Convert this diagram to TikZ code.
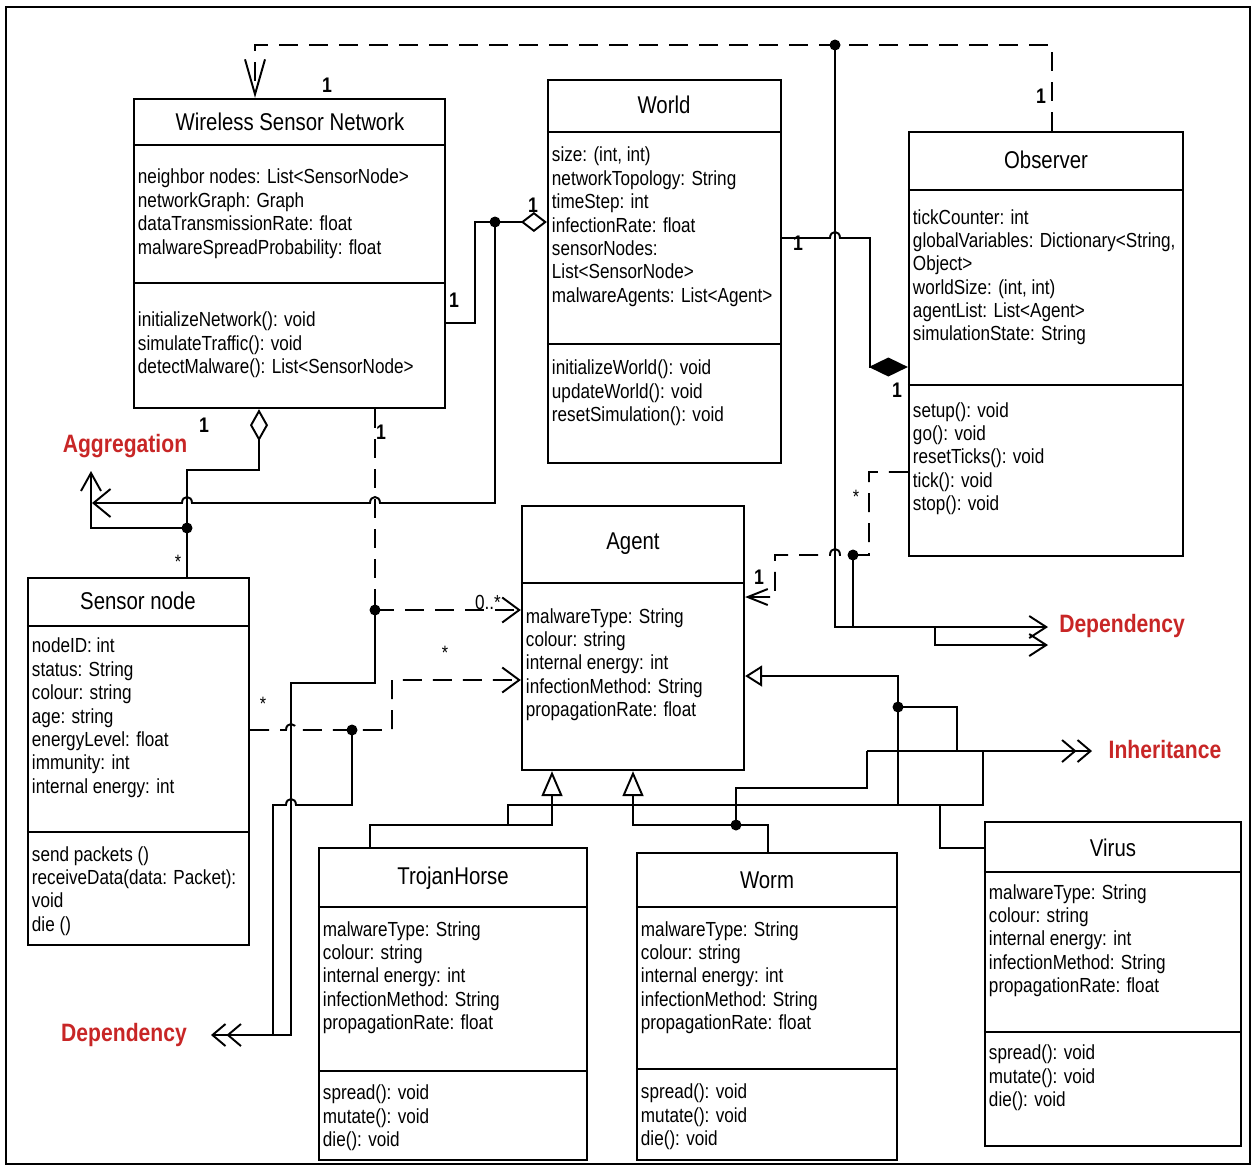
\documentclass[tikz,border=0pt]{standalone}
\usepackage{fontspec}
\setmainfont{Liberation Sans}[FakeStretch=0.84]
\usetikzlibrary{arrows.meta,fit}
\definecolor{lblred}{RGB}{200,38,38}
\begin{document}
\begin{tikzpicture}[x=0.2mm,y=-0.2mm,
  line width=1.1pt, line join=miter,
  box/.style={draw,line width=1.3pt,inner sep=0pt},
  sep/.style={line width=1.3pt},
  attr/.style={anchor=base west,align=left,inner sep=0pt,font=\fontsize{11.6}{13.3}\selectfont},
  ttl/.style={inner sep=0pt,font=\fontsize{13.8}{16}\selectfont},
  mult/.style={inner sep=0pt,font=\fontsize{12}{14}\selectfont\bfseries},
  star/.style={inner sep=0pt,font=\fontsize{11}{13}\selectfont},
  lbl/.style={inner sep=0pt,text=lblred,font=\fontsize{14.3}{16}\selectfont\bfseries},
  dsh/.style={dash pattern=on 3.8mm off 2.2mm},
  dot/.style={circle,fill,inner sep=0pt,minimum size=2.2mm},
  barb/.style={-{Straight Barb[length=3.4mm,width=5mm]}},
  dbarb/.style={-{Straight Barb[length=2.6mm,width=4.4mm]Straight Barb[length=2.6mm,width=4.4mm]}},
]
\useasboundingbox (0,0) rectangle (1255,1167);
\draw[line width=1.6pt] (6,7) rectangle (1250,1164);

% ---------- classes ----------
\node[box,fit={(134,99)(445,408)}] (wsn) {};
\draw[sep] (wsn.west |- 0,145) -- (wsn.east |- 0,145);
\draw[sep] (wsn.west |- 0,283) -- (wsn.east |- 0,283);
\node[ttl] (wsnT) at (290,122) {Wireless Sensor Network};
\node[attr] (wsnA) at (137,254.1) {neighbor nodes: List<SensorNode>\\networkGraph: Graph\\dataTransmissionRate: float\\malwareSpreadProbability: float};
\node[attr] (wsnM) at (137,373.7) {initializeNetwork(): void\\simulateTraffic(): void\\detectMalware(): List<SensorNode>};

\node[box,fit={(548,80)(781,463)}] (world) {};
\draw[sep] (world.west |- 0,132) -- (world.east |- 0,132);
\draw[sep] (world.west |- 0,344) -- (world.east |- 0,344);
\node[ttl] (worldT) at (664,105) {World};
\node[attr] (worldA) at (551,302.2) {size: (int, int)\\networkTopology: String\\timeStep: int\\infectionRate: float\\sensorNodes:\\List<SensorNode>\\malwareAgents: List<Agent>};
\node[attr] (worldM) at (551,421.7) {initializeWorld(): void\\updateWorld(): void\\resetSimulation(): void};

\node[box,fit={(909,132)(1183,556)}] (obs) {};
\draw[sep] (obs.west |- 0,190) -- (obs.east |- 0,190);
\draw[sep] (obs.west |- 0,385) -- (obs.east |- 0,385);
\node[ttl] (obsT) at (1046,160) {Observer};
\node[attr] (obsA) at (912,340.9) {tickCounter: int\\globalVariables: Dictionary<String,\\Object>\\worldSize: (int, int)\\agentList: List<Agent>\\simulationState: String};
\node[attr] (obsM) at (912,510.5) {setup(): void\\go(): void\\resetTicks(): void\\tick(): void\\stop(): void};

\node[box,fit={(522,506)(744,770)}] (agent) {};
\draw[sep] (agent.west |- 0,583) -- (agent.east |- 0,583);
\node[ttl] (agentT) at (633,544) {Agent};
\node[attr] (agentA) at (525,716.5) {malwareType: String\\colour: string\\internal energy: int\\infectionMethod: String\\propagationRate: float};

\node[box,fit={(28,578)(249,945)}] (sensor) {};
\draw[sep] (sensor.west |- 0,626) -- (sensor.east |- 0,626);
\draw[sep] (sensor.west |- 0,832) -- (sensor.east |- 0,832);
\node[ttl] (sensorT) at (138,601) {Sensor node};
\node[attr] (sensorA) at (31,793.2) {nodeID: int\\status: String\\colour: string\\age: string\\energyLevel: float\\immunity: int\\internal energy: int};
\node[attr] (sensorM) at (31,931.1) {send packets ()\\receiveData(data: Packet):\\void\\die ()};

\node[box,fit={(319,848)(587,1160)}] (trojan) {};
\draw[sep] (trojan.west |- 0,907) -- (trojan.east |- 0,907);
\draw[sep] (trojan.west |- 0,1071) -- (trojan.east |- 0,1071);
\node[ttl] (trojanT) at (453,878) {TrojanHorse};
\node[attr] (trojanA) at (322,1029.5) {malwareType: String\\colour: string\\internal energy: int\\infectionMethod: String\\propagationRate: float};
\node[attr] (trojanM) at (322,1146.7) {spread(): void\\mutate(): void\\die(): void};

\node[box,fit={(637,853)(897,1160)}] (worm) {};
\draw[sep] (worm.west |- 0,907) -- (worm.east |- 0,907);
\draw[sep] (worm.west |- 0,1069) -- (worm.east |- 0,1069);
\node[ttl] (wormT) at (767,880) {Worm};
\node[attr] (wormA) at (640,1029.5) {malwareType: String\\colour: string\\internal energy: int\\infectionMethod: String\\propagationRate: float};
\node[attr] (wormM) at (640,1145.7) {spread(): void\\mutate(): void\\die(): void};

\node[box,fit={(985,822)(1241,1146)}] (virus) {};
\draw[sep] (virus.west |- 0,872) -- (virus.east |- 0,872);
\draw[sep] (virus.west |- 0,1032) -- (virus.east |- 0,1032);
\node[ttl] (virusT) at (1113,848) {Virus};
\node[attr] (virusA) at (988,992.5) {malwareType: String\\colour: string\\internal energy: int\\infectionMethod: String\\propagationRate: float};
\node[attr] (virusM) at (988,1106.7) {spread(): void\\mutate(): void\\die(): void};

% ---------- junction dots ----------
\node[dot] (d1) at (835,45) {};
\node[dot] (d2) at (495,222) {};
\node[dot] (d3) at (187,528) {};
\node[dot] (d4) at (375,610) {};
\node[dot] (d5) at (352,730) {};
\node[dot] (d6) at (853,555) {};
\node[dot] (d7) at (898,707) {};
\node[dot] (d8) at (736,825) {};

% ---------- connectors ----------
% Observer -> WSN (top dashed)
\coordinate (tdR) at (1052,45);
\coordinate (tdL) at (255,45);
\draw[dsh,-{Straight Barb[length=7mm,width=4mm]}] (obs.north -| tdR) -- (tdR) -- (tdL) -- (wsn.north -| tdL);
% dot on top line -> Dependency (right)
\coordinate (dep1) at (1048,627);
\draw[-{Straight Barb[length=3.4mm,width=4.4mm]}] (d1.center) -- (835,627) -- (dep1);
\coordinate (dep2) at (1048,645);
\draw[-{Straight Barb[length=3.4mm,width=4.4mm]}] (935,627) -- (935,645) -- (dep2);
\draw (d6.center) -- (853,627);
% World -> Observer composition
\draw[-{Diamond[length=7.8mm,width=3.8mm]}] (world.east |- 0,238) -- (830,238) .. controls (830,230) and (840,230) .. (840,238) -- (870,238) -- (870,367) -- (obs.west |- 0,367);
% WSN -> World aggregation
\draw[-{Diamond[open,length=5.2mm,width=4mm]}] (wsn.east |- 0,323) -- (475,323) -- (475,222) -- (world.west |- 0,222);
% aggregation line to the left label
\coordinate (ag1) at (92,503);
\draw[-{Straight Barb[length=3.4mm,width=5.6mm]}] (d2.center) -- (495,503) -- (380,503) .. controls (380,495) and (370,495) .. (370,503) -- (192,503) .. controls (192,495) and (182,495) .. (182,503) -- (ag1);
% WSN <>- Sensor node
\draw[{Diamond[open,length=6.4mm,width=3.6mm]}-] (wsn.south -| 259,0) -- (259,470) -- (187,470) -- (sensor.north -| 187,0);
\coordinate (ag2) at (91,471);
\draw[-{Straight Barb[length=3.6mm,width=4mm]}] (d3.center) -- (91,528) -- (ag2);
% WSN dashed -> Agent
\draw[dsh] (wsn.south -| d4) -- (d4.center);
\draw[dsh,barb] (d4.center) -- (agent.west |- d4);
% Dependency (left)
\coordinate (dep3) at (211,1035);
\draw[dbarb] (d4.center) -- (375,683) -- (291,683) -- (291,1035) -- (dep3);
% Sensor node dashed -> Agent
\draw[dsh,barb] (sensor.east |- 0,730) -- (286,730) .. controls (286,722) and (296,722) .. (296,730) -- (392,730) -- (392,680) -- (agent.west |- 0,680);
\draw (d5.center) -- (352,805) -- (296,805) .. controls (296,797) and (286,797) .. (286,805) -- (273,805) -- (273,1035);
% Observer dashed -> Agent
\draw[dsh,-{Straight Barb[length=4mm,width=3.2mm]}] (obs.west |- 0,472) -- (869,472) -- (869,555) -- (840,555) .. controls (840,547) and (830,547) .. (830,555) -- (775,555) -- (775,597) -- (agent.east |- 0,597);
% Inheritance
\draw[-{Triangle[open,length=3.4mm,width=4.2mm]}] (898,805) -- (898,676) -- (agent.east |- 0,676);
\draw (d7.center) -- (957,707) -- (957,751);
\coordinate (inh) at (1092,751);
\draw[dbarb] (867,751) -- (inh);
\draw (983,751) -- (983,805) -- (508,805) -- (508,825);
\draw (867,751) -- (867,788) -- (736,788) -- (d8.center);
\draw[-{Triangle[open,length=5mm,width=4.2mm]}] (trojan.north -| 370,0) -- (370,825) -- (552,825) -- (agent.south -| 552,0);
\draw[-{Triangle[open,length=5mm,width=4.2mm]}] (worm.north -| 768,0) -- (768,825) -- (633,825) -- (agent.south -| 633,0);
\draw (940,805) -- (940,848) -- (virus.west |- 0,848);

% ---------- multiplicities ----------
\node[mult] (m1) at (327,85) {1};
\node[mult] (m2) at (1041,96) {1};
\node[mult] (m3) at (454,300) {1};
\node[mult] (m4) at (533,205) {1};
\node[mult] (m5) at (798,243) {1};
\node[mult] (m6) at (897,390) {1};
\node[mult] (m7) at (204,425) {1};
\node[mult] (m8) at (381,432) {1};
\node[mult] (m9) at (759,577) {1};
\node[star] (s1) at (178,562) {*};
\node[star] (s2) at (856,497) {*};
\node[star] (s3) at (445,653) {*};
\node[star] (s4) at (263,704) {*};
\node[mult,font=\fontsize{11.6}{13}\selectfont] (m10) at (488,602) {0..*};

% ---------- red labels ----------
\node[lbl] (lAgg) at (125,446) {Aggregation};
\node[lbl] (lDep1) at (1122,626) {Dependency};
\node[lbl] (lInh) at (1165,749) {Inheritance};
\node[lbl] (lDep2) at (124,1035) {Dependency};
\end{tikzpicture}
\end{document}
